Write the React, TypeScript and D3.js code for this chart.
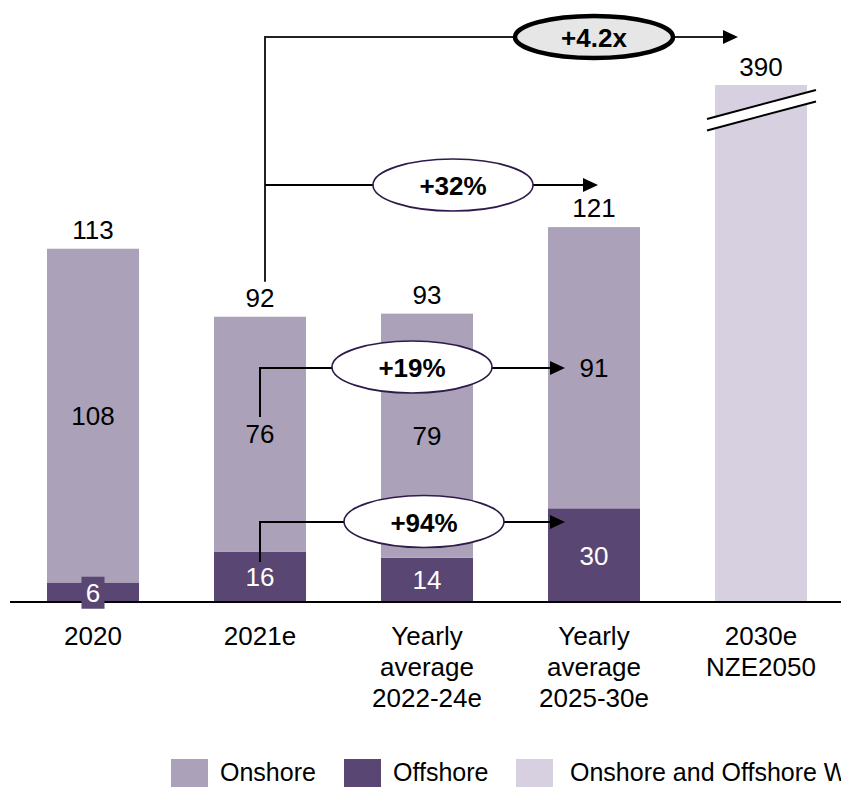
import React from "react";
import * as d3 from "d3";

// Categories along the x axis (multi-line labels)
const categories = ["2020", "2021e", "avg2224", "avg2530", "2030e"];
const categoryLabels: string[][] = [
  ["2020"],
  ["2021e"],
  ["Yearly", "average", "2022-24e"],
  ["Yearly", "average", "2025-30e"],
  ["2030e", "NZE2050"],
];

// Annual capacity additions (GW)
const onshore = [108, 76, 79, 91, null];
const offshore = [6, 16, 14, 30, null];
const totals = [113, 92, 93, 121, 390];
// NZE2050 scenario: onshore and offshore combined
const combined = [null, null, null, null, 390];

// The 390 bar is drawn with an axis break at this value
const brokenBarCap = 167;

// Growth call-outs
const growthLabels = ["+4.2x", "+32%", "+19%", "+94%"];

const legendItems = ["Onshore", "Offshore", "Onshore and Offshore Wind"];

const W = 841;
const H = 787;
const FONT = "'Liberation Sans', Arial, Helvetica, sans-serif";
const C_ON = "#aba1b8";
const C_OFF = "#594672";
const C_ALL = "#d6d0e0";
const C_RING = "#2e1b4b";

export default function App() {
  const x = d3
    .scaleBand<string>()
    .domain(categories)
    .range([9.5, 844.5])
    .paddingInner(0.449)
    .paddingOuter(0.2246);
  const y = d3.scaleLinear().domain([0, 194.5]).range([601, 0]);
  const bw = x.bandwidth();
  const cx = (i: number) => (x(categories[i]) as number) + bw / 2;

  const arrowHead = (tx: number, ty: number) =>
    `M${tx},${ty} L${tx - 15},${ty - 7} L${tx - 15},${ty + 7} Z`;

  const valueText = (
    key: string,
    tx: number,
    ty: number,
    label: string | number,
    fill = "#000"
  ) => (
    <text
      key={key}
      x={tx}
      y={ty}
      textAnchor="middle"
      dominantBaseline="central"
      fontSize={26}
      fill={fill}
    >
      {label}
    </text>
  );

  // Call-out geometry
  const i21 = 1;
  const i25 = 3;
  const i30 = 4;
  const topY = 37;
  const midY = 185;
  const onY = 368;
  const offY = 522;
  const vx = cx(i21) + 5;
  const sx = cx(i21);
  const tip42 = (x(categories[i30]) as number) + 23;
  const tip32 = cx(i25) + 4;
  const tipSeg = (x(categories[i25]) as number) + 17;

  const bars: React.ReactNode[] = [];
  const labels: React.ReactNode[] = [];
  categories.forEach((c, i) => {
    const x0 = x(c) as number;
    const off = offshore[i];
    const on = onshore[i];
    const all = combined[i];
    if (off != null && on != null) {
      bars.push(
        <rect key={`off${i}`} x={x0} y={y(off)} width={bw} height={y(0) - y(off)} fill={C_OFF} />,
        <rect key={`on${i}`} x={x0} y={y(off + on)} width={bw} height={y(off) - y(off + on)} fill={C_ON} />
      );
      labels.push(valueText(`onl${i}`, cx(i), (y(off) + y(off + on)) / 2, on));
      const offMid = (y(0) + y(off)) / 2;
      if (y(0) - y(off) < 30) {
        // Small segment: label sits on its own patch
        labels.push(
          <rect key={`offbg${i}`} x={cx(i) - 11.5} y={offMid - 15} width={23} height={32} fill={C_OFF} />
        );
      }
      labels.push(valueText(`offl${i}`, cx(i), offMid + 1, off, "#fff"));
      labels.push(valueText(`tot${i}`, cx(i), y(off + on) - 19, totals[i]));
    }
    if (all != null) {
      const shown = Math.min(all, brokenBarCap);
      bars.push(
        <rect key={`all${i}`} x={x0} y={y(shown)} width={bw} height={y(0) - y(shown)} fill={C_ALL} />
      );
      labels.push(valueText(`tot${i}`, cx(i), y(shown) - 18, totals[i]));
      // axis break marks
      const bx0 = x0 - 8;
      const bx1 = x0 + bw + 9;
      const by = y(shown) + 34;
      labels.push(
        <g key={`brk${i}`}>
          <path
            d={`M${bx0},${by} L${bx1},${by - 29} L${bx1},${by - 17.5} L${bx0},${by + 11.5} Z`}
            fill="#fff"
          />
          <line x1={bx0} y1={by} x2={bx1} y2={by - 29} stroke="#000" strokeWidth={2} />
          <line x1={bx0} y1={by + 11.5} x2={bx1} y2={by - 17.5} stroke="#000" strokeWidth={2} />
        </g>
      );
    }
  });

  const ring = (
    key: string,
    ex: number,
    ey: number,
    rx: number,
    ry: number,
    label: string,
    heavy = false
  ) => (
    <g key={key}>
      <ellipse
        cx={ex}
        cy={ey}
        rx={rx}
        ry={ry}
        fill={heavy ? "#e6e6e6" : "#fff"}
        stroke={heavy ? "#000" : C_RING}
        strokeWidth={heavy ? 4.5 : 1.6}
      />
      <text
        x={ex}
        y={ey + 1}
        textAnchor="middle"
        dominantBaseline="central"
        fontSize={26}
        fontWeight="bold"
      >
        {label}
      </text>
    </g>
  );

  const legendX = [171, 344, 516];

  return (
    <svg
      width={W}
      height={H}
      viewBox={`0 0 ${W} ${H}`}
      style={{ position: "absolute", left: 0, top: 0, fontFamily: FONT, background: "#fff" }}
    >
      <rect width={W} height={H} fill="#fff" />
      {bars}
      {/* axis */}
      <line x1={10} x2={W} y1={y(0) + 1} y2={y(0) + 1} stroke="#000" strokeWidth={2} />
      {labels}

      {/* +4.2x and +32% connectors from the 2021e total */}
      <path
        d={`M${vx},${y(totals[i21]) - 35} L${vx},${topY} L${tip42 - 14},${topY}`}
        fill="none"
        stroke="#222"
        strokeWidth={2}
      />
      <path d={arrowHead(tip42, topY)} fill="#000" />
      <path d={`M${vx},${midY} L${tip32 - 14},${midY}`} stroke="#000" strokeWidth={2} />
      <path d={arrowHead(tip32, midY)} fill="#000" />
      {ring("r42", 594, topY, 79, 21, growthLabels[0], true)}
      {ring("r32", 453, midY, 80, 26, growthLabels[1])}

      {/* segment connectors */}
      <path
        d={`M${sx},${onY + 49} L${sx},${onY} L${tipSeg - 14},${onY}`}
        fill="none"
        stroke="#000"
        strokeWidth={2}
      />
      <path d={arrowHead(tipSeg, onY)} fill="#000" />
      {ring("r19", 412, onY - 1, 80, 26, growthLabels[2])}
      <path
        d={`M${sx},${offY + 40} L${sx},${offY} L${tipSeg - 14},${offY}`}
        fill="none"
        stroke="#000"
        strokeWidth={2}
      />
      <path d={arrowHead(tipSeg, offY)} fill="#000" />
      {ring("r94", 424, offY - 0.5, 80, 26, growthLabels[3])}

      {/* category labels */}
      {categoryLabels.map((lines, i) => (
        <text key={`cat${i}`} x={cx(i)} y={645} textAnchor="middle" fontSize={26}>
          {lines.map((l, j) => (
            <tspan key={j} x={cx(i)} dy={j === 0 ? 0 : 31}>
              {l}
            </tspan>
          ))}
        </text>
      ))}

      {/* legend */}
      {legendItems.map((name, i) => (
        <g key={`lg${i}`}>
          <rect x={legendX[i]} y={759} width={37} height={28} fill={[C_ON, C_OFF, C_ALL][i]} />
          <text x={legendX[i] + (i === 2 ? 54 : 49)} y={781} fontSize={25}>
            {name}
          </text>
        </g>
      ))}
    </svg>
  );
}
